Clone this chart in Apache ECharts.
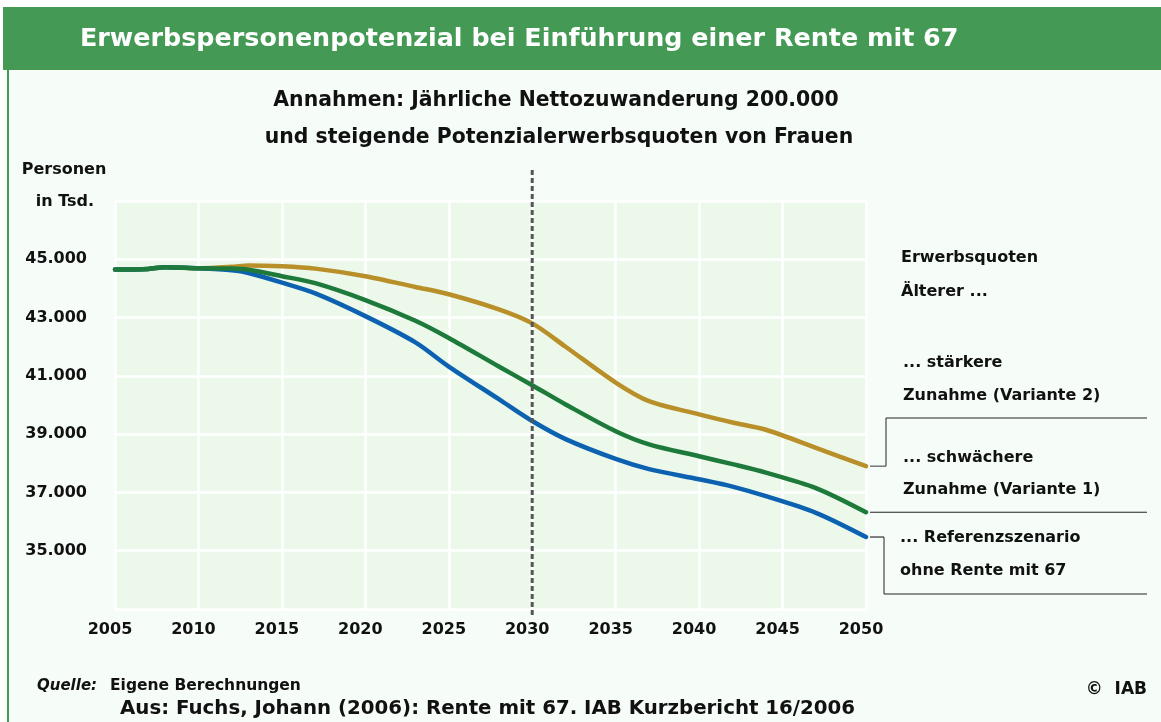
<!DOCTYPE html>
<html>
<head>
<meta charset="utf-8">
<script src="https://cdn.jsdelivr.net/npm/echarts@6/dist/echarts.min.js"></script>
<style>
  html, body { margin: 0; padding: 0; background: #ffffff; }
  #chart { width: 1161px; height: 722px; }
</style>
</head>
<body>
<div id="chart"></div>
<script>
// Erwerbspersonenpotenzial 2005-2050, Werte in Tsd.
var years = [2005, 2007, 2008, 2010, 2012, 2013, 2015, 2017, 2020, 2023, 2025,
             2028, 2030, 2032, 2035, 2037, 2040, 2042, 2044, 2047, 2050];
var variante2 = [44650, 44670, 44730, 44690, 44740, 44790, 44760, 44680, 44420, 44050, 43800,
                 43280, 42800, 42000, 40770, 40130, 39680, 39400, 39150, 38530, 37900];
var variante1 = [44650, 44670, 44730, 44690, 44680, 44640, 44420, 44180, 43600, 42890, 42300,
                 41320, 40680, 40020, 39100, 38650, 38240, 37970, 37680, 37150, 36320];
var referenz = [44650, 44670, 44730, 44690, 44620, 44530, 44200, 43830, 43050, 42150, 41320,
                40200, 39450, 38830, 38150, 37800, 37450, 37200, 36870, 36300, 35470];
var yTicks = [35000, 37000, 39000, 41000, 43000, 45000];
var markYear = 2030;

var FONT = 'DejaVu Sans';
var colGold = '#b98f2a', colGreen = '#1d7a3a', colBlue = '#0c62b0';

function pairs(vals) {
    return years.map(function (y, i) { return [y, vals[i]]; });
}
function fmt(v) {
    return String(v).replace(/\B(?=(\d{3})+(?!\d))/g, '.');
}
function txt(x, y, s, size, extra) {
    var st = { x: x, y: y, text: s, fill: '#111', font: 'bold ' + size + 'px "' + FONT + '"',
               textAlign: 'left', textVerticalAlign: 'middle' };
    for (var k in extra) st[k] = extra[k];
    return { type: 'text', style: st, z: 10 };
}
function line(x1, y1, x2, y2, color, w, dash) {
    return { type: 'line', shape: { x1: x1, y1: y1, x2: x2, y2: y2 },
             style: { stroke: color, lineWidth: w || 1, lineDash: dash || null }, z: 10 };
}

var myChart = echarts.init(document.getElementById('chart'));

var lineSeries = function (name, vals, color) {
    return {
        name: name,
        type: 'line',
        data: pairs(vals),
        smooth: 0.3,
        showSymbol: false,
        lineStyle: { color: color, width: 4.5, cap: 'round', join: 'round' },
        itemStyle: { color: color }
    };
};

var option = {
    backgroundColor: '#ffffff',
    animation: false,
    grid: {
        left: 115, right: 295, top: 201, bottom: 113,
        show: true, backgroundColor: '#ecf9ea', borderWidth: 0
    },
    xAxis: {
        type: 'value', min: 2005, max: 2050, interval: 5,
        axisLine: { show: false }, axisTick: { show: false },
        splitLine: { show: true, lineStyle: { color: '#ffffff', width: 2.5 } },
        axisLabel: {
            color: '#111', fontFamily: FONT, fontWeight: 'bold', fontSize: 16,
            margin: 13, padding: [0, 10, 0, 0],
            formatter: function (v) { return String(v); }
        }
    },
    yAxis: {
        type: 'value', min: 33000, max: 47000, interval: 2000,
        axisLine: { show: false }, axisTick: { show: false },
        splitLine: { show: true, lineStyle: { color: '#ffffff', width: 2.5 } },
        axisLabel: {
            color: '#111', fontFamily: FONT, fontWeight: 'bold', fontSize: 16, margin: 28,
            formatter: function (v) { return yTicks.indexOf(v) >= 0 ? fmt(v) : ''; }
        }
    },
    series: [
        lineSeries('Variante 2', variante2, colGold),
        lineSeries('Referenz', referenz, colBlue),
        lineSeries('Variante 1', variante1, colGreen)
    ]
};
myChart.setOption(option);

// Rahmen, Titel, Beschriftungen
var g = [
    { type: 'rect', shape: { x: 3, y: 7, width: 1158, height: 715 }, style: { fill: '#f6fdf8' }, z: -10 },
    { type: 'rect', shape: { x: 3, y: 7, width: 1158, height: 63 }, style: { fill: '#449a54' }, z: 5 },
    line(8, 70, 8, 722, '#449a54', 2),
    txt(80, 39, 'Erwerbspersonenpotenzial bei Einführung einer Rente mit 67', 25.4, { fill: '#ffffff' }),
    txt(556, 101, 'Annahmen: Jährliche Nettozuwanderung 200.000', 20.4, { textAlign: 'center' }),
    txt(559, 138, 'und steigende Potenzialerwerbsquoten von Frauen', 20.4, { textAlign: 'center' }),
    txt(64, 170, 'Personen', 16, { textAlign: 'center' }),
    txt(65, 202, 'in Tsd.', 16, { textAlign: 'center' }),
    txt(901, 258, 'Erwerbsquoten', 16),
    txt(901, 292, 'Älterer ...', 16),
    txt(903, 363, '... stärkere', 16),
    txt(903, 396, 'Zunahme (Variante 2)', 16),
    txt(903, 458, '... schwächere', 16),
    txt(903, 490, 'Zunahme (Variante 1)', 16),
    txt(900, 538, '... Referenzszenario', 16),
    txt(900, 571, 'ohne Rente mit 67', 16),
    txt(37, 686, 'Quelle:', 15, { font: 'italic bold 15px "' + FONT + '"' }),
    txt(110, 686, 'Eigene Berechnungen', 15.5),
    txt(120, 709, 'Aus: Fuchs, Johann (2006): Rente mit 67. IAB Kurzbericht 16/2006', 19.8),
    txt(1147, 690, '©  IAB', 17, { textAlign: 'right' })
];

// gestrichelte Linie bei 2030 und Klammern an den Linienenden
var xMark = myChart.convertToPixel({ gridIndex: 0 }, [markYear, 40000])[0];
g.push(line(xMark, 170, xMark, 616, '#555555', 3, [5, 3]));

var last = years.length - 1;
var pGold = myChart.convertToPixel({ gridIndex: 0 }, [years[last], variante2[last]]);
var pGreen = myChart.convertToPixel({ gridIndex: 0 }, [years[last], variante1[last]]);
var pBlue = myChart.convertToPixel({ gridIndex: 0 }, [years[last], referenz[last]]);
var xr = 1147;
g.push(line(pGold[0] + 4, pGold[1], 886, pGold[1], '#777', 1.5));
g.push(line(886, pGold[1], 886, 418, '#222', 1));
g.push(line(886, 418, xr, 418, '#222', 1));
g.push(line(pGreen[0] + 4, pGreen[1], xr, pGreen[1], '#222', 1));
g.push(line(pBlue[0] + 4, pBlue[1], 884, pBlue[1], '#555', 1.5));
g.push(line(884, pBlue[1], 884, 594, '#222', 1));
g.push(line(884, 594, xr, 594, '#222', 1));

myChart.setOption({ graphic: g });
</script>
</body>
</html>
